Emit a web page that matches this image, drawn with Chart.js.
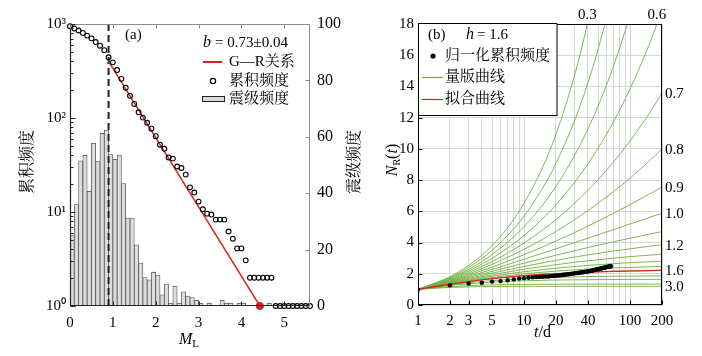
<!DOCTYPE html>
<html><head><meta charset="utf-8">
<script src="https://cdn.jsdelivr.net/npm/chart.js@4/dist/chart.umd.min.js"></script>
<style>
html,body{margin:0;padding:0;background:#fff;}
#wrap{position:relative;width:702px;height:356px;overflow:hidden;background:#fff;}
#ca{position:absolute;left:0;top:0;}
#cb{position:absolute;left:362px;top:0;}
</style></head><body>
<div id="wrap"><canvas id="ca" width="362" height="356"></canvas><canvas id="cb" width="340" height="356"></canvas></div>
<script>
// ---------- Panel (a) data ----------
const magBins = [0.05,0.15,0.25,0.35,0.45,0.55,0.65,0.75,0.85,0.95,1.05,1.15,1.25,1.35,1.45,1.55,1.65,1.75,1.85,1.95,2.05,2.15,2.25,2.35,2.45,2.55,2.65,2.75,2.85,2.95,3.05,3.15,3.25,3.35,3.45,3.55,3.65,3.75,3.85,3.95,4.05,4.15,4.25,4.35,4.45,4.55,4.65,4.75,4.85,4.95,5.05,5.15,5.25,5.35,5.45,5.55];
const magFreq = [25,36,51.5,53.4,40.7,57.7,51.4,61.2,62.4,53.7,52,53.5,43.4,31.2,31.2,21.7,15.2,10.1,9.3,12,11,4,7.8,1,7,1,5,3.5,3,2,1,0,1,0,0,2,1,1,0,1,1,0,0,0,0,0,1,0,0,0,0,0,0,0,0,0];
const magCum = [0.0,0.1,0.2,0.3,0.4,0.5,0.6,0.7,0.8,0.9,1.0,1.1,1.2,1.3,1.4,1.5,1.6,1.7,1.8,1.9,2.0,2.1,2.2,2.3,2.4,2.5,2.6,2.7,2.8,2.9,3.0,3.1,3.2,3.3,3.4,3.5,3.6,3.7,3.8,3.9,4.0,4.1,4.2,4.3,4.4,4.5,4.6,4.7,4.8,4.9,5.0,5.1,5.2,5.3,5.4,5.5,5.6];
const cumFreq = [949,896,853,804,753,704,643,588,527,443,391,324,261,210,172,141,115,101,89,77,64,52,47,38,37,30.5,29.4,25,18.3,16.1,12.9,10.7,9.6,9.4,8.3,8.3,8.3,6.2,5.2,4.1,4.1,3.06,2,2,2,2,2,2,1,1,1,1,1,1,1,1,1];
const mcMag = [0.9, 0.9];
const mcLine = [1, 1000];
const grMag = [0.9, 4.43];
const grN = [400, 1];
const maxMag = [4.43];
const maxN = [1];
const xTicksA = [0,1,2,3,4,5];
const yTicksA = [1,10,100,1000];
const yTickLabelsA = ['10\u2070','10\u00b9','10\u00b2','10\u00b3'];
const y1TicksA = [0,20,40,60,80,100];
const bText = '= 0.73\u00b10.04';

// ---------- Panel (b) data ----------
const tDays = [1,2,3,4,5,7,10,15,20,30,40,50,70,100,150,200];
const nrH03 = [1,1.81,2.53,3.19,3.81,4.95,6.51,8.83,10.93,14.73,18.15,21.34,27.19,35.10,46.87,57.49];
const nrH04 = [1,1.76,2.40,2.98,3.50,4.45,5.70,7.50,9.07,11.82,14.22,16.40,20.29,25.36,32.62,38.96];
const nrH05 = [1,1.71,2.28,2.78,3.23,4.02,5.02,6.41,7.60,9.59,11.27,12.75,15.33,18.59,23.08,26.86];
const nrH06 = [1,1.66,2.18,2.61,2.99,3.65,4.45,5.53,6.42,7.86,9.04,10.05,11.76,13.85,16.62,18.88];
const nrH07 = [1,1.62,2.08,2.46,2.78,3.32,3.97,4.81,5.47,6.52,7.34,8.03,9.17,10.51,12.23,13.57];
const nrH08 = [1,1.57,1.99,2.32,2.60,3.05,3.57,4.21,4.71,5.47,6.05,6.52,7.27,8.13,9.19,10.00];
const nrH09 = [1,1.54,1.91,2.20,2.43,2.80,3.22,3.72,4.10,4.64,5.05,5.37,5.88,6.43,7.08,7.56];
const nrH10 = [1,1.50,1.83,2.08,2.28,2.59,2.93,3.32,3.60,4.00,4.28,4.50,4.83,5.19,5.59,5.88];
const nrH11 = [1,1.47,1.77,1.98,2.15,2.41,2.68,2.98,3.19,3.48,3.68,3.83,4.05,4.28,4.53,4.70];
const nrH12 = [1,1.44,1.70,1.89,2.04,2.25,2.47,2.70,2.86,3.07,3.21,3.31,3.46,3.60,3.76,3.86];
const nrH13 = [1,1.41,1.65,1.81,1.93,2.11,2.29,2.47,2.58,2.74,2.83,2.90,3.00,3.10,3.19,3.25];
const nrH14 = [1,1.38,1.59,1.74,1.84,1.99,2.13,2.27,2.36,2.47,2.54,2.58,2.65,2.71,2.77,2.81];
const nrH15 = [1,1.35,1.55,1.67,1.76,1.88,2.00,2.10,2.17,2.25,2.30,2.33,2.37,2.41,2.45,2.47];
const nrH16 = [1,1.33,1.50,1.61,1.69,1.79,1.88,1.96,2.01,2.07,2.11,2.13,2.16,2.18,2.20,2.22];
const nrH18 = [1,1.29,1.43,1.51,1.56,1.63,1.69,1.74,1.77,1.80,1.82,1.83,1.84,1.85,1.86,1.86];
const nrH20 = [1,1.25,1.36,1.42,1.46,1.51,1.55,1.58,1.60,1.61,1.62,1.63,1.63,1.64,1.64,1.64];
const nrH25 = [1,1.18,1.24,1.27,1.29,1.31,1.32,1.33,1.33,1.34,1.34,1.34,1.34,1.34,1.34,1.34];
const nrH30 = [1,1.13,1.16,1.18,1.19,1.19,1.20,1.20,1.20,1.20,1.20,1.20,1.20,1.20,1.20,1.20];
const fitNR = [1,1.33,1.50,1.61,1.69,1.79,1.88,1.96,2.01,2.07,2.11,2.13,2.16,2.18,2.20,2.22];
const obsDays = [1,2,3,4,5,6,7,8,9,10,11,12,13,14,15,16,17,18,19,20,21,22,23,24,25,26,27,28,29,30,31,32,33,34,35,36,37,38,39,40,41,42,43,44,45,46,47,48,49,50,51,52,53,54,55,56,57,58,59,60,61,62,63,64,65,66];
const obsNR = [1.00,1.26,1.37,1.43,1.50,1.53,1.59,1.64,1.69,1.72,1.75,1.77,1.79,1.80,1.81,1.82,1.83,1.85,1.86,1.88,1.89,1.90,1.92,1.94,1.95,1.97,1.98,2.00,2.01,2.03,2.04,2.05,2.07,2.08,2.09,2.10,2.11,2.13,2.14,2.15,2.17,2.18,2.20,2.21,2.23,2.24,2.26,2.27,2.29,2.30,2.31,2.33,2.34,2.36,2.37,2.38,2.39,2.41,2.42,2.43,2.44,2.45,2.46,2.47,2.48,2.48];
const templates = [
  {h:0.3,data:nrH03,label:'top'},{h:0.4,data:nrH04},{h:0.5,data:nrH05},{h:0.6,data:nrH06,label:'top'},
  {h:0.7,data:nrH07,label:'right'},{h:0.8,data:nrH08,label:'right'},{h:0.9,data:nrH09,label:'right'},
  {h:1.0,data:nrH10,label:'right'},{h:1.1,data:nrH11},{h:1.2,data:nrH12,label:'right'},{h:1.3,data:nrH13},
  {h:1.4,data:nrH14},{h:1.5,data:nrH15},{h:1.6,data:nrH16,label:'right'},{h:1.8,data:nrH18},
  {h:2.0,data:nrH20},{h:2.5,data:nrH25},{h:3.0,data:nrH30,label:'right'}
];
const xGridB = [1,2,3,4,5,6,7,8,9,10,20,30,40,50,60,70,80,90,100,200];
const xLabelsB = [1,2,3,5,10,20,40,100,200];
const yTicksB = [0,2,4,6,8,10,12,14,16,18];

// ---------- styling ----------
const SERIF = '"Liberation Serif","Times New Roman",serif';
const CJK = '"Liberation Serif","Noto Serif CJK SC","Noto Sans CJK SC",serif';
const GREEN = 'rgb(112,176,64)';
const RED = '#d8261e';
Chart.defaults.font.family = SERIF;
Chart.defaults.color = '#000';

function seg(ctx,x1,y1,x2,y2,c,w,dash){ctx.beginPath();ctx.strokeStyle=c;ctx.lineWidth=w||1;ctx.setLineDash(dash||[]);ctx.moveTo(x1,y1);ctx.lineTo(x2,y2);ctx.stroke();ctx.setLineDash([]);}
function txt(ctx,s,x,y,font,align,color){ctx.font=font;ctx.fillStyle=color||'#000';ctx.textAlign=align||'left';ctx.textBaseline='middle';ctx.fillText(s,x,y);return ctx.measureText(s).width;}
function vtxt(ctx,s,x,y,font){ctx.save();ctx.translate(x,y);ctx.rotate(-Math.PI/2);txt(ctx,s,0,0,font,'center');ctx.restore();}

const decoA = {
  id:'decoA',
  afterDraw(chart){
    const ctx=chart.ctx, ca=chart.chartArea, X=chart.scales.x, Y=chart.scales.y, Y1=chart.scales.y1;
    ctx.save();
    const L=Math.round(ca.left)+0.5, R=Math.round(ca.right)-0.5, T=Math.round(ca.top)+0.5, B=Math.round(ca.bottom)-0.5;
    seg(ctx,L,T,R,T,'#8a8a8a',1); seg(ctx,R,T,R,B,'#8a8a8a',1);
    seg(ctx,L,B,R,B,'#222',1); seg(ctx,L,T,L,B,'#222',1.2);
    yTicksA.forEach(v=>{const p=Math.round(Y.getPixelForValue(v))+0.5; seg(ctx,L,p,L+5,p,'#222',1);});
    [1,10,100].forEach(d=>{for(let k=2;k<10;k++){const p=Math.round(Y.getPixelForValue(d*k))+0.5; seg(ctx,L,p,L+3,p,'#222',1);}});
    y1TicksA.forEach(v=>{const p=Math.round(Y1.getPixelForValue(v))+0.5; seg(ctx,R,p,R-4,p,'#8a8a8a',1);});
    xTicksA.forEach(v=>{const p=Math.round(X.getPixelForValue(v))+0.5; seg(ctx,p,B,p,B-4,'#222',1); seg(ctx,p,T,p,T+4,'#8a8a8a',1);});
    // panel label and legend
    txt(ctx,'(a)',125,35,'15px '+SERIF);
    let w=txt(ctx,'b',203,43,'italic 16px '+SERIF);
    txt(ctx,bText,203+w+4,43,'15px '+SERIF);
    seg(ctx,203,62,222,62,RED,2);
    txt(ctx,'G\u2014R关系',229,62,'15px '+CJK);
    ctx.beginPath();ctx.arc(213,81,2.6,0,Math.PI*2);ctx.strokeStyle='#000';ctx.lineWidth=1.2;ctx.stroke();
    txt(ctx,'累积频度',229,81,'15px '+CJK);
    ctx.fillStyle='#d9d9d9';ctx.fillRect(202,96,23,6);ctx.strokeStyle='#222';ctx.lineWidth=1;ctx.strokeRect(202.5,96.5,22,5);
    txt(ctx,'震级频度',229,99,'15px '+CJK);
    // axis titles
    vtxt(ctx,'累积频度',28,162,'16px '+CJK);
    vtxt(ctx,'震级频度',355,162,'16px '+CJK);
    w=txt(ctx,'M',179,340,'italic 16px '+SERIF);
    txt(ctx,'L',179+w,344,'11px '+SERIF);
    ctx.restore();
  }
};

const chartA = new Chart(document.getElementById('ca'),{
  type:'bar',
  data:{datasets:[
    {type:'line',label:'累积频度',data:magCum.map((m,i)=>({x:m,y:cumFreq[i]})),showLine:false,
     pointRadius:2.4,pointBorderWidth:1.1,pointBorderColor:'#000',pointBackgroundColor:'rgba(0,0,0,0)',yAxisID:'y',order:0,clip:false},
    {type:'line',label:'max',data:maxMag.map((m,i)=>({x:m,y:maxN[i]})),showLine:false,pointRadius:3.6,
     pointBackgroundColor:RED,pointBorderColor:RED,pointBorderWidth:1,yAxisID:'y',order:1,clip:false},
    {type:'line',label:'G—R关系',data:grMag.map((m,i)=>({x:m,y:grN[i]})),borderColor:RED,borderWidth:1.5,
     pointRadius:0,yAxisID:'y',order:2},
    {type:'line',label:'Mc',data:mcMag.map((m,i)=>({x:m,y:mcLine[i]})),borderColor:'#222',borderWidth:2,
     borderDash:[7,4],pointRadius:0,yAxisID:'y',order:3},
    {type:'bar',label:'震级频度',data:magBins.map((m,i)=>({x:m,y:magFreq[i]})),backgroundColor:'#dcdcdc',
     borderColor:'#555',borderWidth:0.8,barPercentage:1,categoryPercentage:1,yAxisID:'y1',order:4}
  ]},
  options:{
    responsive:false,animation:false,devicePixelRatio:1,
    layout:{padding:{top:24,left:0,right:0,bottom:0}},
    plugins:{legend:{display:false},tooltip:{enabled:false}},
    scales:{
      x:{type:'linear',min:0,max:5.6,offset:false,
         grid:{display:false,drawTicks:false,offset:false},border:{display:false},
         afterBuildTicks:s=>{s.ticks=xTicksA.map(v=>({value:v}));},
         ticks:{font:{size:15},padding:8,maxRotation:0,autoSkip:false,color:'#000'},
         afterFit:s=>{s.height=50;}},
      y:{type:'logarithmic',position:'left',min:1,max:1000,
         grid:{display:false,drawTicks:false},border:{display:false},
         afterBuildTicks:s=>{s.ticks=yTicksA.map(v=>({value:v}));},
         ticks:{font:{size:15},padding:4,autoSkip:false,color:'#000',
                callback:(v)=>{const i=yTicksA.indexOf(v);return i>=0?yTickLabelsA[i]:'';}},
         afterFit:s=>{s.width=70;}},
      y1:{type:'linear',position:'right',min:0,max:100,
         grid:{display:false,drawTicks:false},border:{display:false},
         afterBuildTicks:s=>{s.ticks=y1TicksA.map(v=>({value:v}));},
         ticks:{font:{size:16},padding:7,autoSkip:false,color:'#000'},
         afterFit:s=>{s.width=52;}}
    }
  },
  plugins:[decoA]
});

const decoB = {
  id:'decoB',
  afterDraw(chart){
    const ctx=chart.ctx, ca=chart.chartArea, X=chart.scales.x, Y=chart.scales.y;
    ctx.save();
    const L=Math.round(ca.left)+0.5, R=Math.round(ca.right)-0.5, T=Math.round(ca.top)+0.5, B=Math.round(ca.bottom)-0.5;
    ctx.strokeStyle='#000';ctx.lineWidth=1;ctx.strokeRect(L,T,R-L,B-T);
    yTicksB.forEach(v=>{const p=Math.round(Y.getPixelForValue(v))+0.5; seg(ctx,L,p,L+4,p,'#000',1);});
    xLabelsB.forEach(v=>{const p=Math.round(X.getPixelForValue(v))+0.5; seg(ctx,p,B,p,B-4,'#000',1);});
    // curve labels
    templates.forEach(c=>{
      if(c.label==='right'){
        const y=Y.getPixelForValue(c.data[c.data.length-1]);
        txt(ctx,c.h.toFixed(1),ca.right+3,y+1,'15px '+SERIF);
      } else if(c.label==='top'){
        let xp=null;
        for(let i=1;i<c.data.length;i++){
          if(c.data[i-1]<18 && c.data[i]>=18){
            const x0=X.getPixelForValue(tDays[i-1]),x1=X.getPixelForValue(tDays[i]);
            xp=x0+(x1-x0)*(18-c.data[i-1])/(c.data[i]-c.data[i-1]);break;
          }
        }
        if(xp!==null) txt(ctx,c.h.toFixed(1),xp,15,'15px '+SERIF,'center');
      }
    });
    // legend box
    ctx.fillStyle='#fff';ctx.fillRect(L,23.5,195-L,92);
    ctx.strokeStyle='#000';ctx.lineWidth=1;ctx.strokeRect(L,23.5,195-L,92);
    txt(ctx,'(b)',66,35,'15px '+SERIF);
    let w=txt(ctx,'h',104,35,'italic 16px '+SERIF);
    txt(ctx,'= 1.6',104+w+3,35,'15px '+SERIF);
    ctx.beginPath();ctx.arc(71,56,2.6,0,Math.PI*2);ctx.fillStyle='#000';ctx.fill();
    txt(ctx,'归一化累积频度',83,56,'15px '+CJK);
    seg(ctx,60,77.5,81,77.5,GREEN,1.2);
    txt(ctx,'量版曲线',83,77,'15px '+CJK);
    seg(ctx,60,99.5,81,99.5,RED,1.2);
    txt(ctx,'拟合曲线',83,99,'15px '+CJK);
    // axis titles
    w=txt(ctx,'t',172,333,'italic 16px '+SERIF);
    txt(ctx,'/d',172+w,333,'16px '+SERIF);
    ctx.save();ctx.translate(31,160);ctx.rotate(-Math.PI/2);
    ctx.font='italic 16px '+SERIF;
    const parts=[['N','italic 16px '+SERIF,0],['R','10px '+SERIF,4],['(','16px '+SERIF,0],['t','italic 16px '+SERIF,0],[')','16px '+SERIF,0]];
    let tot=0;parts.forEach(p=>{ctx.font=p[1];tot+=ctx.measureText(p[0]).width;});
    let cx=-tot/2;
    parts.forEach(p=>{ctx.font=p[1];ctx.fillStyle='#000';ctx.textAlign='left';ctx.textBaseline='middle';ctx.fillText(p[0],cx,p[2]);cx+=ctx.measureText(p[0]).width;});
    ctx.restore();
    ctx.restore();
  }
};

const dsB = [];
dsB.push({label:'归一化累积频度',data:obsDays.map((t,i)=>({x:t,y:obsNR[i]})),showLine:false,pointRadius:2.2,
  pointBackgroundColor:'#000',pointBorderColor:'#000',pointBorderWidth:0,order:0});
dsB.push({label:'拟合曲线',data:tDays.map((t,i)=>({x:t,y:fitNR[i]})),borderColor:RED,borderWidth:1.3,pointRadius:0,
  cubicInterpolationMode:'monotone',order:1});
templates.forEach(c=>{
  dsB.push({label:'h='+c.h,data:tDays.map((t,i)=>({x:t,y:c.data[i]})),borderColor:GREEN,borderWidth:0.9,pointRadius:0,
    cubicInterpolationMode:'monotone',order:2});
});

const chartB = new Chart(document.getElementById('cb'),{
  type:'line',
  data:{datasets:dsB},
  options:{
    responsive:false,animation:false,devicePixelRatio:1,
    layout:{padding:{top:24,left:0,right:40,bottom:0}},
    plugins:{legend:{display:false},tooltip:{enabled:false}},
    scales:{
      x:{type:'logarithmic',min:1,max:200,
         grid:{color:'#d6d6d6',lineWidth:1,drawTicks:false},border:{display:false},
         afterBuildTicks:s=>{s.ticks=xGridB.map(v=>({value:v}));},
         ticks:{font:{size:15},padding:7,maxRotation:0,minRotation:0,autoSkip:false,color:'#000',
                callback:(v)=>xLabelsB.indexOf(v)>=0?String(v):''},
         afterFit:s=>{s.height=51;}},
      y:{type:'linear',min:0,max:18,
         grid:{color:'#d6d6d6',lineWidth:1,drawTicks:false},border:{display:false},
         afterBuildTicks:s=>{s.ticks=yTicksB.map(v=>({value:v}));},
         ticks:{font:{size:15},padding:4,autoSkip:false,color:'#000'},
         afterFit:s=>{s.width=56;}}
    }
  },
  plugins:[decoB]
});
</script></body></html>
